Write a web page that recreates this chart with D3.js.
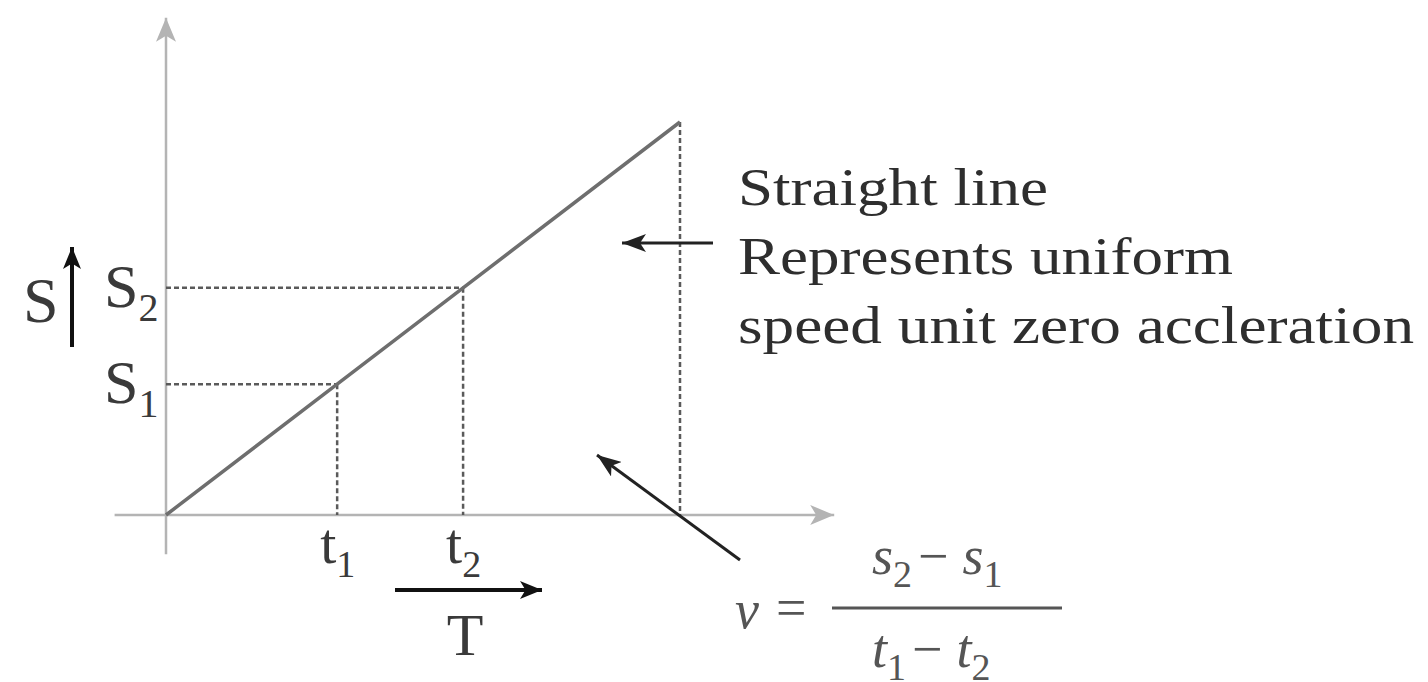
<!DOCTYPE html>
<html>
<head>
<meta charset="utf-8">
<script src="https://cdn.jsdelivr.net/npm/d3@7"></script>
<style>
  body { margin: 0; background: #fff; }
  svg { display: block; }
</style>
</head>
<body>
<div id="chart"></div>
<script>
/* distance-time graph, uniform speed */

// data: the marked instants and the distance covered at each
const times = [0, 3.33, 5.78, 10];
const distances = [0, 3.33, 5.78, 10];
const markedIdx = [1, 2]; // t1/S1 and t2/S2
const timeLabels = ["t", "t"];
const distLabels = ["S", "S"];
const subLabels = ["1", "2"];
const noteLines = ["Straight line", "Represents uniform", "speed unit zero accleration"];

const width = 1428, height = 682;

const svg = d3.select("#chart")
  .append("svg")
  .attr("width", width)
  .attr("height", height)
  .attr("font-family", "'Liberation Serif'");

// scales
let x = d3.scaleLinear().domain([0, 10]).range([166, 680]);
let y = d3.scaleLinear().domain([0, 10]).range([515, 122]);

// arrowheads
const defs = svg.append("defs");
function head(id, color, w, l) {
  defs.append("marker")
    .attr("id", id)
    .attr("markerUnits", "userSpaceOnUse")
    .attr("viewBox", `0 ${-w / 2} ${l} ${w}`)
    .attr("refX", l).attr("refY", 0)
    .attr("markerWidth", l).attr("markerHeight", w)
    .attr("orient", "auto")
    .append("path")
    .attr("d", `M0,${-w / 2}L${l},0L0,${w / 2}L${l * 0.25},0Z`)
    .attr("fill", color);
}
head("axisHead", "#b4b4b4", 20, 24);
head("blackHead", "#111", 18, 22);
head("darkHead", "#222", 18, 24);

// axes
svg.append("line")
  .attr("x1", x(-1)).attr("x2", x(13))
  .attr("y1", y(0)).attr("y2", y(0))
  .attr("stroke", "#b4b4b4").attr("stroke-width", 2.5)
  .attr("marker-end", "url(#axisHead)");

svg.append("line")
  .attr("x1", x(0)).attr("x2", x(0))
  .attr("y1", y(-1)).attr("y2", y(12.65))
  .attr("stroke", "#b4b4b4").attr("stroke-width", 2.5)
  .attr("marker-end", "url(#axisHead)");

// dashed guides
const guides = svg.append("g")
  .attr("stroke", "#5a5a5a")
  .attr("stroke-width", 2.5)
  .attr("stroke-dasharray", "5,3")
  .attr("fill", "none");

markedIdx.forEach(i => {
  guides.append("line")
    .attr("x1", x(0)).attr("x2", x(times[i]))
    .attr("y1", y(distances[i])).attr("y2", y(distances[i]));
});
[1, 2, 3].forEach(i => {
  guides.append("line")
    .attr("x1", x(times[i])).attr("x2", x(times[i]))
    .attr("y1", y(distances[i])).attr("y2", y(0));
});

// the straight line
let line = d3.line()
  .x((d, i) => x(times[i]))
  .y(d => y(d));

svg.append("path")
  .datum(distances)
  .attr("d", line)
  .attr("fill", "none")
  .attr("stroke", "#6e6e6e")
  .attr("stroke-width", 3.5);

// tick labels with subscripts
markedIdx.forEach((i, k) => {
  let t = svg.append("text")
    .attr("x", x(times[i]) - 17)
    .attr("y", 563)
    .attr("font-size", 58)
    .attr("fill", "#3a3a3a");
  t.append("tspan").text(timeLabels[k]);
  t.append("tspan").attr("font-size", 38).attr("dy", 14).text(subLabels[k]);

  let s = svg.append("text")
    .attr("x", 104)
    .attr("y", y(distances[i]) + 19)
    .attr("font-size", 62)
    .attr("fill", "#3a3a3a");
  s.append("tspan").text(distLabels[k]);
  s.append("tspan").attr("font-size", 40).attr("dy", 14).text(subLabels[k]);
});

// axis names and their arrows
svg.append("text")
  .attr("x", 23).attr("y", 322)
  .attr("font-size", 64)
  .attr("fill", "#3a3a3a")
  .text("S");

svg.append("line")
  .attr("x1", 72).attr("x2", 72)
  .attr("y1", 347).attr("y2", 247)
  .attr("stroke", "#111").attr("stroke-width", 4)
  .attr("marker-end", "url(#blackHead)");

svg.append("line")
  .attr("x1", 395).attr("x2", 542)
  .attr("y1", 590).attr("y2", 590)
  .attr("stroke", "#111").attr("stroke-width", 4)
  .attr("marker-end", "url(#blackHead)");

svg.append("text")
  .attr("x", 465).attr("y", 655)
  .attr("text-anchor", "middle")
  .attr("font-size", 60)
  .attr("fill", "#3a3a3a")
  .text("T");

// note on the right
const noteWidths = [310, 495, 676];
svg.append("g")
  .selectAll("text")
  .data(noteLines)
  .join("text")
  .attr("x", 738)
  .attr("y", (d, i) => 205 + i * 69)
  .attr("font-size", 53)
  .attr("fill", "#2e2e2e")
  .attr("textLength", (d, i) => noteWidths[i])
  .attr("lengthAdjust", "spacingAndGlyphs")
  .text(d => d);

svg.append("line")
  .attr("x1", 713).attr("x2", 622)
  .attr("y1", 243).attr("y2", 243)
  .attr("stroke", "#222").attr("stroke-width", 3)
  .attr("marker-end", "url(#darkHead)");

svg.append("line")
  .attr("x1", 740).attr("x2", 597)
  .attr("y1", 560).attr("y2", 455)
  .attr("stroke", "#222").attr("stroke-width", 3)
  .attr("marker-end", "url(#darkHead)");

// the speed formula
const fx = svg.append("g").attr("fill", "#555").attr("font-size", 54);
fx.append("text").attr("x", 735).attr("y", 628)
  .attr("font-style", "italic").text("v");
fx.append("text").attr("x", 776).attr("y", 626).text("=");
fx.append("line")
  .attr("x1", 832).attr("x2", 1062)
  .attr("y1", 608).attr("y2", 608)
  .attr("stroke", "#555").attr("stroke-width", 3);

function frac(yBase, sym, a, b) {
  let t = fx.append("text").attr("x", 872).attr("y", yBase);
  t.append("tspan").attr("font-style", "italic").text(sym);
  t.append("tspan").attr("font-size", 38).attr("dy", 13).text(a);
  t.append("tspan").attr("dy", -13).attr("dx", 6).text("\u2212");
  t.append("tspan").attr("font-style", "italic").attr("dx", 14).text(sym);
  t.append("tspan").attr("font-size", 38).attr("dy", 13).text(b);
}
frac(574, "s", subLabels[1], subLabels[0]);
frac(667, "t", subLabels[0], subLabels[1]);
</script>
</body>
</html>
